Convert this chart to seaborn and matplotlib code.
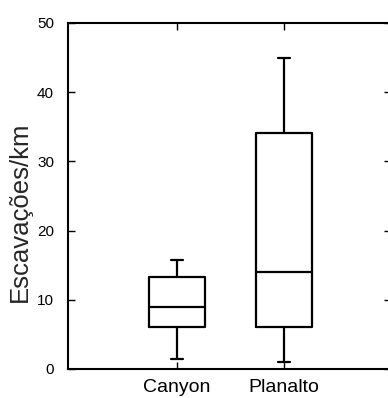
import matplotlib
matplotlib.use("Agg")
import matplotlib.pyplot as plt
import seaborn as sns
import pandas as pd

# Five-number summaries (min, Q1, median, Q3, max)
categories = ["Canyon", "Planalto"]
canyon_vals = [1.4, 6.1, 8.9, 13.3, 15.8]
planalto_vals = [1.05, 6.1, 14.0, 34.1, 44.9]
yticks = [0, 10, 20, 30, 40, 50]
ylabel = "Escavações/km"

df = pd.DataFrame({
    "local": [categories[0]] * len(canyon_vals) + [categories[1]] * len(planalto_vals),
    "val": canyon_vals + planalto_vals,
})

sns.set_theme(style="white")
plt.rcParams["font.family"] = ["Liberation Sans", "DejaVu Sans"]

fig = plt.figure(figsize=(3.88, 3.98), dpi=100)
ax = fig.add_axes([68 / 388, 1 - 369 / 398, (391 - 68) / 388, (369 - 23) / 398])

sns.boxplot(data=df, x="local", y="val", order=categories, ax=ax,
            whis=(0, 100), width=0.52, fill=False, color="black",
            linewidth=1.6, capwidths=0.11, showfliers=False)

ax.set_xlim(-1.02, 2.0)
ax.set_ylim(0, 50)
ax.set_yticks(yticks)
ax.set_yticklabels([str(t) for t in yticks],
                   family=["Liberation Sans Narrow", "DejaVu Sans Condensed", "Liberation Sans"],
                   fontsize=11)
ax.set_xticks(range(len(categories)))
ax.set_xticklabels(categories, fontsize=14)
ax.set_xlabel("")
ax.set_ylabel(ylabel, fontsize=18.5)
ax.yaxis.set_label_coords(-0.112, 0.454)

for s in ax.spines.values():
    s.set_visible(True)
    s.set_color("black")
    s.set_linewidth(1.5)

ax.tick_params(axis="y", direction="in", length=5, width=1, color="black",
               left=True, right=True, pad=10, labelcolor="black")
ax.tick_params(axis="x", direction="in", length=5, width=1, color="black",
               bottom=True, top=True, pad=7, labelcolor="black")

fig.savefig("out.png", dpi=100)
